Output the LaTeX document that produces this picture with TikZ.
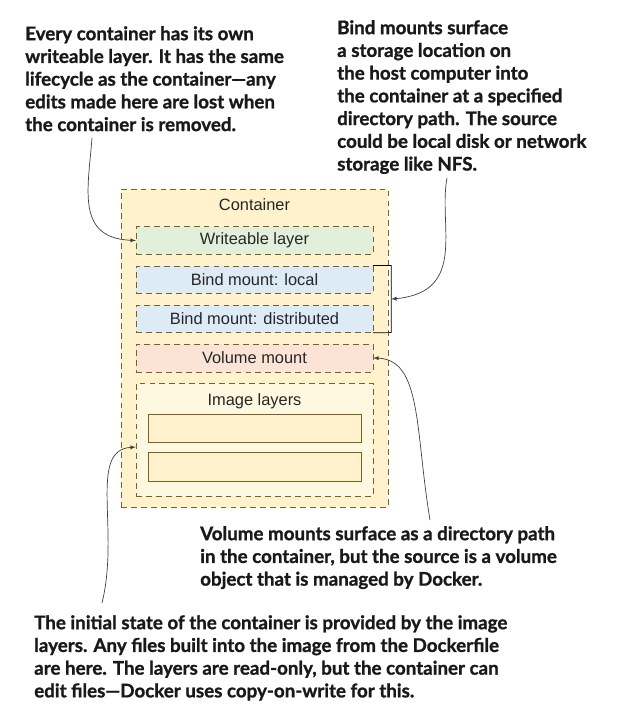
\documentclass[tikz,border=0pt]{standalone}
\usepackage{fontspec}
\setmainfont{Liberation Sans}
\newfontfamily\notefont{Lato}[BoldFeatures={FakeBold=1.2}]
\usepackage{xcolor}
\usepackage{tikz}
\usetikzlibrary{positioning}

\definecolor{layerline}{HTML}{806020}
\definecolor{contfill}{HTML}{FFF2CC}
\definecolor{imgfill}{HTML}{FFF8E1}
\definecolor{writefill}{HTML}{E2EFDA}
\definecolor{bindfill}{HTML}{DDEBF7}
\definecolor{volfill}{HTML}{FBE4D5}
\definecolor{pointline}{HTML}{404040}

\begin{document}
\begin{tikzpicture}[x=0.03cm,y=-0.03cm,node distance=0.33cm]
	\tikzstyle{every node}=[font=\fontsize{14}{16}\selectfont,text=black!85]
	\tikzstyle{box}=[draw=layerline,dash pattern=on 5pt off 3.5pt,inner sep=0pt,minimum width=7.11cm,minimum height=0.83cm]
	\tikzstyle{imglayer}=[draw=layerline,fill=contfill,inner sep=0pt,minimum width=6.39cm,minimum height=0.86cm]
	\tikzstyle{note}=[anchor=north west,align=left,inner sep=0pt,text=black!90,font=\notefont\bfseries\fontsize{16}{19.4}\selectfont]
	\tikzstyle{pointer}=[draw=pointline,line width=0.6pt,-latex]
	\useasboundingbox (0,0) rectangle (617,726);

	\node[box,fill=contfill,minimum width=8.01cm,minimum height=9.54cm] (cont) at (254.5,348) {};
	\node[inner sep=0pt,below=0.3cm of cont.north] (conttitle) {Container};
	\node[box,fill=writefill] (writ) at (254.5,240.5) {Writeable layer};
	\node[box,fill=bindfill,below=of writ] (bindl) {Bind mount: local};
	\node[box,fill=bindfill,below=of bindl] (bindd) {Bind mount: distributed};
	\node[box,fill=volfill,below=of bindd] (vol) {Volume mount};
	\node[box,fill=imgfill,minimum height=3.39cm,below=of vol] (img) {};
	\node[inner sep=0pt,below=0.3cm of img.north] (imgtitle) {Image layers};
	\node[imglayer,below=0.15cm of imgtitle] (img1) {};
	\node[imglayer,below=0.27cm of img1] (img2) {};

	\draw[line width=0.6pt] (bindl.north east) -- ++(18,0) -- node[coordinate] (brk) {} ++(0,67) -- (bindd.south east);

	\node[note] (writenote) at (25,26) {Every container has its own\\writeable layer. It has the same\\lifecycle as the container\textemdash any\\edits made here are lost when\\the container is removed.};
	\node[note] (bindnote) at (337,20) {Bind mounts surface\\a storage location on\\the host computer into\\the container at a specified\\directory path. The source\\could be local disk or network\\storage like NFS.};
	\node[note] (volnote) at (200,526) {Volume mounts surface as a directory path\\in the container, but the source is a volume\\object that is managed by Docker.};
	\node[note] (imgnote) at (34,615) {The initial state of the container is provided by the image\\layers. Any files built into the image from the Dockerfile\\are here. The layers are read-only, but the container can\\edit files\textemdash Docker uses copy-on-write for this.};

	\coordinate (writefrom) at (92,138);
	\coordinate (bindfrom) at (447,178);
	\coordinate (volfrom) at (430,520);
	\coordinate (imgfrom) at (102,603);
	\draw[pointer] (writefrom) .. controls (88,190) and (76,238) .. (writ.west);
	\draw[pointer] (bindfrom) .. controls (438,225) and (468,292) .. (brk);
	\draw[pointer] (volfrom) .. controls (415,430) and (422,360) .. (vol.east);
	\draw[pointer] (imgfrom) .. controls (120,530) and (88,450) .. ([yshift=-0.22cm]img.west);
\end{tikzpicture}
\end{document}
